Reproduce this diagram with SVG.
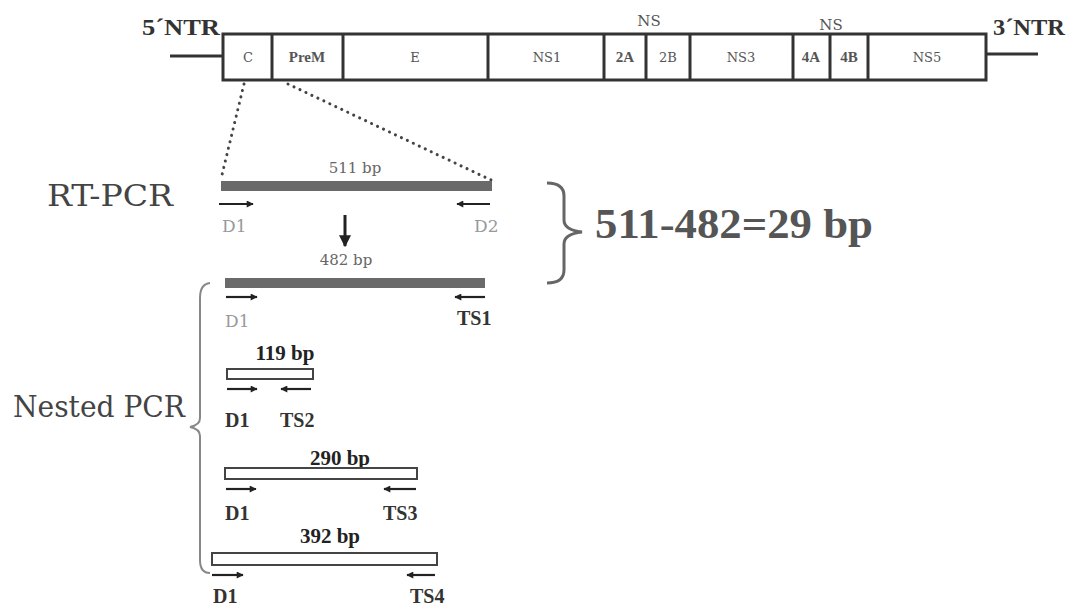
<svg xmlns="http://www.w3.org/2000/svg" width="1073" height="609" viewBox="0 0 1073 609">
<defs>
<style>
text{font-family:"DejaVu Serif","Liberation Serif",serif;}
.b,.dk,.bpb,.gb{font-family:"Liberation Serif","Times New Roman",serif;font-weight:bold;}
.gene{font-size:13px;fill:#555;text-anchor:middle;}
.gb{font-size:15px;fill:#555;text-anchor:middle;}
.ns{font-size:15px;fill:#555;text-anchor:middle;}
.box{fill:#fff;stroke:#333;stroke-width:3;}
.div{stroke:#333;stroke-width:3;}
.ln{stroke:#333;stroke-width:3;}
.dot{stroke:#444;stroke-width:3;stroke-dasharray:0.1 6.5;stroke-linecap:round;fill:none;}
.pr{stroke:#222;stroke-width:2.2;marker-end:url(#ah);}
.bar{fill:#6a6a6a;}
.obar{fill:#fff;stroke:#444;stroke-width:2;}
.lg{fill:#999;font-size:17px;}
.dk{fill:#333;font-size:20px;}
.bp{font-size:15px;fill:#666;text-anchor:middle;}
.bpb{font-size:21px;fill:#222;text-anchor:middle;}
.brace{fill:none;stroke:#666;stroke-width:3;}
</style>
<marker id="ah" viewBox="0 0 10 10" refX="9" refY="5" markerWidth="9" markerHeight="7" markerUnits="userSpaceOnUse" orient="auto"><path d="M0,0 L10,5 L0,10 z" fill="#222"/></marker>
<marker id="ahd" viewBox="0 0 10 10" refX="9" refY="5" markerWidth="12" markerHeight="12" markerUnits="userSpaceOnUse" orient="auto"><path d="M0,0 L10,5 L0,10 z" fill="#222"/></marker>
</defs>
<rect width="1073" height="609" fill="#fff"/>

<g id="genome">
<line class="ln" x1="170" y1="56" x2="223" y2="56"/>
<line class="ln" x1="986" y1="54" x2="1038" y2="54"/>
<rect class="box" x="223" y="34" width="763" height="46"/>
<line class="div" x1="272" y1="34" x2="272" y2="80"/>
<line class="div" x1="343" y1="34" x2="343" y2="80"/>
<line class="div" x1="488" y1="34" x2="488" y2="80"/>
<line class="div" x1="604" y1="34" x2="604" y2="80"/>
<line class="div" x1="646" y1="34" x2="646" y2="80"/>
<line class="div" x1="690" y1="34" x2="690" y2="80"/>
<line class="div" x1="793" y1="34" x2="793" y2="80"/>
<line class="div" x1="830" y1="34" x2="830" y2="80"/>
<line class="div" x1="868" y1="34" x2="868" y2="80"/>
<text class="gene" x="248" y="62">C</text>
<text class="gb" x="307" y="62">PreM</text>
<text class="gene" x="415" y="62">E</text>
<text class="gene" x="547" y="62">NS1</text>
<text class="gb" x="625" y="62">2A</text>
<text class="gene" x="668" y="62">2B</text>
<text class="gene" x="741" y="62">NS3</text>
<text class="gb" x="811" y="62">4A</text>
<text class="gb" x="849" y="62">4B</text>
<text class="gene" x="927" y="62">NS5</text>
<text class="ns" x="649" y="26">NS</text>
<text class="ns" x="831" y="30">NS</text>
<text class="b" x="142" y="35" font-size="23" fill="#333" textLength="78" lengthAdjust="spacingAndGlyphs">5´NTR</text>
<text class="b" x="993" y="35" font-size="23" fill="#333" textLength="72" lengthAdjust="spacingAndGlyphs">3´NTR</text>
</g>

<g id="connectors">
<line class="dot" x1="244" y1="84" x2="221" y2="179"/>
<line class="dot" x1="288" y1="84" x2="491" y2="180"/>
<line stroke="#222" stroke-width="3" x1="345" y1="215" x2="345" y2="246" marker-end="url(#ahd)"/>
</g>

<g id="rtpcr">
<text x="47" y="206" font-size="30" fill="#444" textLength="126" lengthAdjust="spacingAndGlyphs">RT-PCR</text>
<rect class="bar" x="221" y="181" width="271" height="10"/>
<text class="bp" x="355" y="173">511 bp</text>
<line class="pr" x1="219" y1="204" x2="253" y2="204"/>
<line class="pr" x1="490" y1="204" x2="457" y2="204"/>
<text class="lg" x="222" y="232">D1</text>
<text class="lg" x="474" y="232">D2</text>
<text class="bp" x="346" y="265">482 bp</text>
<rect class="bar" x="225" y="278" width="260" height="10"/>
<line class="pr" x1="226" y1="297" x2="257" y2="297"/>
<line class="pr" x1="485" y1="297" x2="455" y2="297"/>
<text class="lg" x="225" y="327">D1</text>
<text class="dk" x="457" y="325" fill="#222">TS1</text>
</g>

<g id="difference">
<path class="brace" d="M547,183 Q564,183 564,196 L564,220 Q564,230 582,232 Q564,234 564,244 L564,270 Q564,283 547,283"/>
<text class="b" x="595" y="238" font-size="42" fill="#555" textLength="278" lengthAdjust="spacingAndGlyphs">511-482=29 bp</text>
</g>

<g id="nested">
<path d="M210,283 Q200,284 200,298 L200,418 Q200,425 190,427 Q200,429 200,436 L200,560 Q200,573 210,573" fill="none" stroke="#888" stroke-width="2"/>
<text x="13" y="417" font-size="29" fill="#444" textLength="172" lengthAdjust="spacingAndGlyphs">Nested PCR</text>
</g>

<g id="p119">
<text class="bpb" x="285" y="360">119 bp</text>
<rect class="obar" x="227" y="369" width="86" height="10"/>
<line class="pr" x1="227" y1="389" x2="257" y2="389"/>
<line class="pr" x1="311" y1="389" x2="281" y2="389"/>
<text class="dk" x="225" y="427">D1</text>
<text class="dk" x="280" y="427">TS2</text>
</g>

<g id="p290">
<text class="bpb" x="340" y="465">290 bp</text>
<rect class="obar" x="225" y="468" width="192" height="11"/>
<line class="pr" x1="226" y1="489" x2="256" y2="489"/>
<line class="pr" x1="416" y1="489" x2="384" y2="489"/>
<text class="dk" x="225" y="520">D1</text>
<text class="dk" x="383" y="520">TS3</text>
</g>

<g id="p392">
<text class="bpb" x="330" y="543">392 bp</text>
<rect class="obar" x="212" y="553" width="225" height="12"/>
<line class="pr" x1="212" y1="575" x2="243" y2="575"/>
<line class="pr" x1="435" y1="575" x2="407" y2="575"/>
<text class="dk" x="213" y="603">D1</text>
<text class="dk" x="410" y="603">TS4</text>
</g>
</svg>
